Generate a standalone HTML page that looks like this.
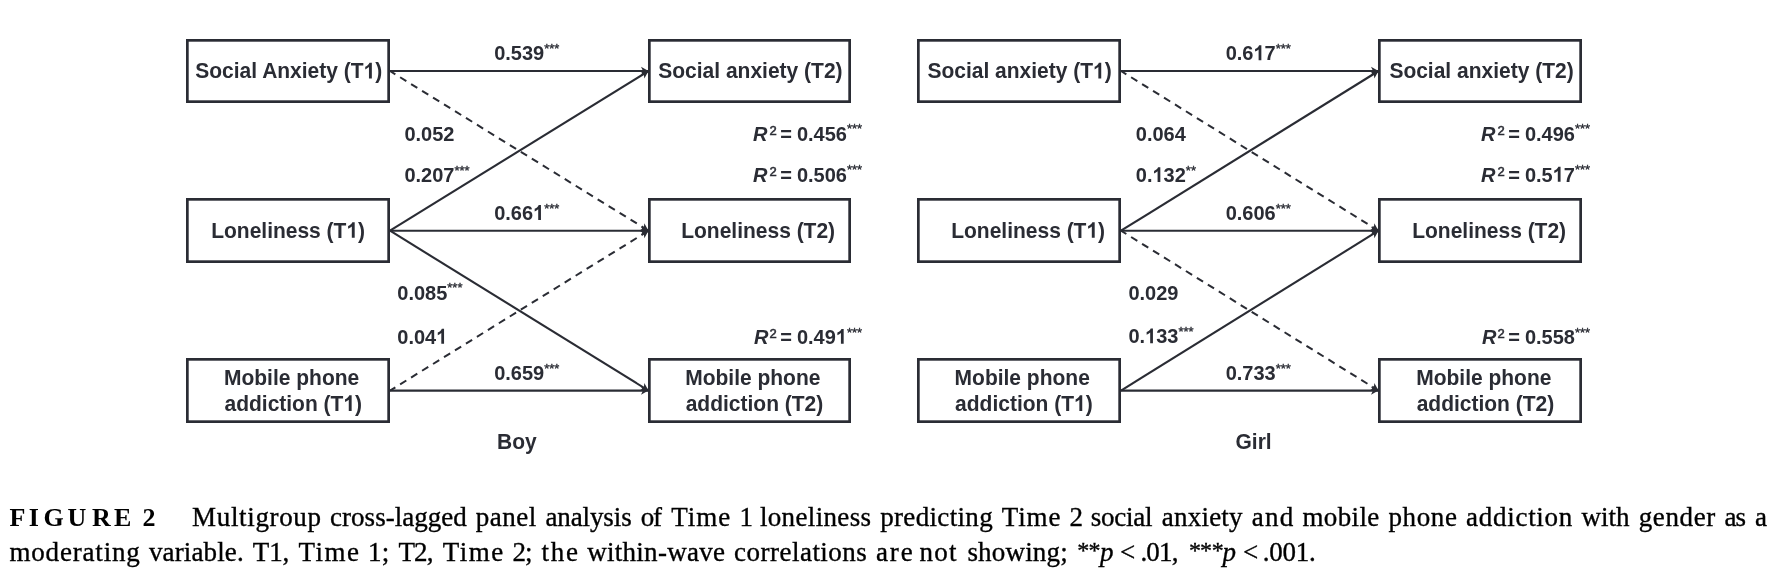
<!DOCTYPE html>
<html><head><meta charset="utf-8"><style>
html,body{margin:0;padding:0;background:#fff;width:1776px;height:576px;overflow:hidden}
svg{position:absolute;left:0;top:0}
svg.dg{will-change:transform}
svg text{font-family:"Liberation Sans",sans-serif;fill:#2a2c34}
svg text tspan.one{fill-opacity:0}
svg .capg text{font-family:"Liberation Serif",serif;fill:#000;font-size:27px;letter-spacing:0.4px;font-weight:normal;stroke:#000;stroke-width:0.35px}
svg .capg text.fg{font-weight:bold;font-size:26px;letter-spacing:0;stroke-width:0}
</style></head><body>
<svg class="dg" width="1776" height="576" viewBox="0 0 1776 576">
<defs><marker id="ah" markerUnits="userSpaceOnUse" markerWidth="12" markerHeight="12" refX="9" refY="6" orient="auto" viewBox="0 0 12 12">
<path d="M9,6 L1.5,1.8 L3.5,6 L1.5,10.2 Z" fill="#2a2c34"/></marker></defs>
<line x1="390" y1="71" x2="648.5" y2="71" stroke="#2a2c34" stroke-width="2.1" marker-end="url(#ah)"/>
<line x1="390" y1="230.7" x2="648.5" y2="230.7" stroke="#2a2c34" stroke-width="2.1" marker-end="url(#ah)"/>
<line x1="390" y1="390.6" x2="648.5" y2="390.6" stroke="#2a2c34" stroke-width="2.1" marker-end="url(#ah)"/>
<line x1="390" y1="230.7" x2="648.5" y2="71" stroke="#2a2c34" stroke-width="2.1" marker-end="url(#ah)"/>
<line x1="390" y1="71" x2="648.5" y2="230.7" stroke="#2a2c34" stroke-width="2.0" stroke-dasharray="7.3 5.6" stroke-dashoffset="1" marker-end="url(#ah)"/>
<line x1="390" y1="230.7" x2="648.5" y2="390.6" stroke="#2a2c34" stroke-width="2.1" marker-end="url(#ah)"/>
<line x1="390" y1="390.6" x2="648.5" y2="230.7" stroke="#2a2c34" stroke-width="2.0" stroke-dasharray="7.3 5.6" stroke-dashoffset="1" marker-end="url(#ah)"/>
<rect x="187.35" y="40.35" width="201.3" height="61.3" fill="#fff" stroke="#2a2c34" stroke-width="2.7"/>
<rect x="649.35" y="40.35" width="200.3" height="61.3" fill="#fff" stroke="#2a2c34" stroke-width="2.7"/>
<rect x="187.35" y="199.35" width="201.3" height="62.3" fill="#fff" stroke="#2a2c34" stroke-width="2.7"/>
<rect x="649.35" y="199.35" width="200.3" height="62.3" fill="#fff" stroke="#2a2c34" stroke-width="2.7"/>
<rect x="187.35" y="359.35" width="201.3" height="62.3" fill="#fff" stroke="#2a2c34" stroke-width="2.7"/>
<rect x="649.35" y="359.35" width="200.3" height="62.3" fill="#fff" stroke="#2a2c34" stroke-width="2.7"/>
<line x1="1121" y1="71" x2="1378.5" y2="71" stroke="#2a2c34" stroke-width="2.1" marker-end="url(#ah)"/>
<line x1="1121" y1="230.7" x2="1378.5" y2="230.7" stroke="#2a2c34" stroke-width="2.1" marker-end="url(#ah)"/>
<line x1="1121" y1="390.6" x2="1378.5" y2="390.6" stroke="#2a2c34" stroke-width="2.1" marker-end="url(#ah)"/>
<line x1="1121" y1="71" x2="1378.5" y2="230.7" stroke="#2a2c34" stroke-width="2.0" stroke-dasharray="7.3 5.6" stroke-dashoffset="1" marker-end="url(#ah)"/>
<line x1="1121" y1="230.7" x2="1378.5" y2="71" stroke="#2a2c34" stroke-width="2.1" marker-end="url(#ah)"/>
<line x1="1121" y1="230.7" x2="1378.5" y2="390.6" stroke="#2a2c34" stroke-width="2.0" stroke-dasharray="7.3 5.6" stroke-dashoffset="1" marker-end="url(#ah)"/>
<line x1="1121" y1="390.6" x2="1378.5" y2="230.7" stroke="#2a2c34" stroke-width="2.1" marker-end="url(#ah)"/>
<rect x="918.35" y="40.35" width="201.3" height="61.3" fill="#fff" stroke="#2a2c34" stroke-width="2.7"/>
<rect x="1379.35" y="40.35" width="201.3" height="61.3" fill="#fff" stroke="#2a2c34" stroke-width="2.7"/>
<rect x="918.35" y="199.35" width="201.3" height="62.3" fill="#fff" stroke="#2a2c34" stroke-width="2.7"/>
<rect x="1379.35" y="199.35" width="201.3" height="62.3" fill="#fff" stroke="#2a2c34" stroke-width="2.7"/>
<rect x="918.35" y="359.35" width="201.3" height="62.3" fill="#fff" stroke="#2a2c34" stroke-width="2.7"/>
<rect x="1379.35" y="359.35" width="201.3" height="62.3" fill="#fff" stroke="#2a2c34" stroke-width="2.7"/>
<text x="195.3" y="78.4" font-size="21" font-weight="bold" transform="matrix(1,0,0,1.04,0,-3.136)">Social Anxiety (T<tspan class="one">1</tspan>)</text>
<text x="211.2" y="237.8" font-size="21" font-weight="bold" transform="matrix(1,0,0,1.04,0,-9.512)">Loneliness (T<tspan class="one">1</tspan>)</text>
<text x="224" y="385" font-size="21" font-weight="bold" transform="matrix(1,0,0,1.04,0,-15.400)">Mobile phone</text>
<text x="224.5" y="411" font-size="21" font-weight="bold" transform="matrix(1,0,0,1.04,0,-16.440)">addiction (T<tspan class="one">1</tspan>)</text>
<text x="658.3" y="78.4" font-size="21" font-weight="bold" transform="matrix(1,0,0,1.04,0,-3.136)">Social anxiety (T2)</text>
<text x="681.2" y="237.8" font-size="21" font-weight="bold" transform="matrix(1,0,0,1.04,0,-9.512)">Loneliness (T2)</text>
<text x="685.2" y="385" font-size="21" font-weight="bold" transform="matrix(1,0,0,1.04,0,-15.400)">Mobile phone</text>
<text x="685.7" y="411" font-size="21" font-weight="bold" transform="matrix(1,0,0,1.04,0,-16.440)">addiction (T2)</text>
<text x="497" y="449.3" font-size="21" font-weight="bold" transform="matrix(1,0,0,1.04,0,-17.972)">Boy</text>
<text x="927.4" y="78.4" font-size="21" font-weight="bold" transform="matrix(1,0,0,1.04,0,-3.136)">Social anxiety (T<tspan class="one">1</tspan>)</text>
<text x="951.2" y="237.8" font-size="21" font-weight="bold" transform="matrix(1,0,0,1.04,0,-9.512)">Loneliness (T<tspan class="one">1</tspan>)</text>
<text x="954.6" y="385" font-size="21" font-weight="bold" transform="matrix(1,0,0,1.04,0,-15.400)">Mobile phone</text>
<text x="955.1" y="411" font-size="21" font-weight="bold" transform="matrix(1,0,0,1.04,0,-16.440)">addiction (T<tspan class="one">1</tspan>)</text>
<text x="1389.4" y="78.4" font-size="21" font-weight="bold" transform="matrix(1,0,0,1.04,0,-3.136)">Social anxiety (T2)</text>
<text x="1412.2" y="237.8" font-size="21" font-weight="bold" transform="matrix(1,0,0,1.04,0,-9.512)">Loneliness (T2)</text>
<text x="1416.2" y="385" font-size="21" font-weight="bold" transform="matrix(1,0,0,1.04,0,-15.400)">Mobile phone</text>
<text x="1416.7" y="411" font-size="21" font-weight="bold" transform="matrix(1,0,0,1.04,0,-16.440)">addiction (T2)</text>
<text x="1235.5" y="449.3" font-size="21" font-weight="bold" transform="matrix(1,0,0,1.04,0,-17.972)">Girl</text>
<text x="494.2" y="60.2" font-size="20" font-weight="bold" transform="matrix(1,0,0,1.04,0,-2.408)">0.539<tspan font-size="13" font-weight="normal" dy="-7" stroke="#2a2c34" stroke-width="0.35">***</tspan></text>
<text x="404.4" y="141.1" font-size="20" font-weight="bold" transform="matrix(1,0,0,1.04,0,-5.644)">0.052</text>
<text x="404.4" y="182.1" font-size="20" font-weight="bold" transform="matrix(1,0,0,1.04,0,-7.284)">0.207<tspan font-size="13" font-weight="normal" dy="-7" stroke="#2a2c34" stroke-width="0.35">***</tspan></text>
<text x="494.2" y="220" font-size="20" font-weight="bold" transform="matrix(1,0,0,1.04,0,-8.800)">0.66<tspan class="one">1</tspan><tspan font-size="13" font-weight="normal" dy="-7" stroke="#2a2c34" stroke-width="0.35">***</tspan></text>
<text x="397.3" y="299.7" font-size="20" font-weight="bold" transform="matrix(1,0,0,1.04,0,-11.988)">0.085<tspan font-size="13" font-weight="normal" dy="-7" stroke="#2a2c34" stroke-width="0.35">***</tspan></text>
<text x="397.3" y="343.75" font-size="20" font-weight="bold" transform="matrix(1,0,0,1.04,0,-13.750)">0.04<tspan class="one">1</tspan></text>
<text x="494.2" y="379.8" font-size="20" font-weight="bold" transform="matrix(1,0,0,1.04,0,-15.192)">0.659<tspan font-size="13" font-weight="normal" dy="-7" stroke="#2a2c34" stroke-width="0.35">***</tspan></text>
<text x="753" y="140.7" font-size="20" font-weight="bold" transform="matrix(1,0,0,1.04,0,-5.628)"><tspan font-style="italic" dx="0">R</tspan><tspan font-size="13" font-weight="normal" dy="-5.8" dx="2" stroke="#2a2c34" stroke-width="0.55">2</tspan><tspan dy="5.8" dx="3.5">=</tspan><tspan dx="-0.5"> 0.456</tspan><tspan font-size="13" font-weight="normal" dy="-7" stroke="#2a2c34" stroke-width="0.35">***</tspan></text>
<text x="753" y="181.7" font-size="20" font-weight="bold" transform="matrix(1,0,0,1.04,0,-7.268)"><tspan font-style="italic" dx="0">R</tspan><tspan font-size="13" font-weight="normal" dy="-5.8" dx="2" stroke="#2a2c34" stroke-width="0.55">2</tspan><tspan dy="5.8" dx="3.5">=</tspan><tspan dx="-0.5"> 0.506</tspan><tspan font-size="13" font-weight="normal" dy="-7" stroke="#2a2c34" stroke-width="0.35">***</tspan></text>
<text x="753" y="343.8" font-size="20" font-weight="bold" transform="matrix(1,0,0,1.04,0,-13.752)"><tspan font-style="italic" dx="1">R</tspan><tspan font-size="13" font-weight="normal" dy="-5.8" dx="1" stroke="#2a2c34" stroke-width="0.55">2</tspan><tspan dy="5.8" dx="3.5">=</tspan><tspan dx="-0.5"> 0.49<tspan class="one">1</tspan></tspan><tspan font-size="13" font-weight="normal" dy="-7" stroke="#2a2c34" stroke-width="0.35">***</tspan></text>
<text x="1225.7" y="60.2" font-size="20" font-weight="bold" transform="matrix(1,0,0,1.04,0,-2.408)">0.6<tspan class="one">1</tspan>7<tspan font-size="13" font-weight="normal" dy="-7" stroke="#2a2c34" stroke-width="0.35">***</tspan></text>
<text x="1135.8" y="141.1" font-size="20" font-weight="bold" transform="matrix(1,0,0,1.04,0,-5.644)">0.064</text>
<text x="1135.8" y="182.1" font-size="20" font-weight="bold" transform="matrix(1,0,0,1.04,0,-7.284)">0.<tspan class="one">1</tspan>32<tspan font-size="13" font-weight="normal" dy="-7" stroke="#2a2c34" stroke-width="0.35">**</tspan></text>
<text x="1225.7" y="220" font-size="20" font-weight="bold" transform="matrix(1,0,0,1.04,0,-8.800)">0.606<tspan font-size="13" font-weight="normal" dy="-7" stroke="#2a2c34" stroke-width="0.35">***</tspan></text>
<text x="1128.4" y="299.7" font-size="20" font-weight="bold" transform="matrix(1,0,0,1.04,0,-11.988)">0.029</text>
<text x="1128.4" y="343.3" font-size="20" font-weight="bold" transform="matrix(1,0,0,1.04,0,-13.732)">0.<tspan class="one">1</tspan>33<tspan font-size="13" font-weight="normal" dy="-7" stroke="#2a2c34" stroke-width="0.35">***</tspan></text>
<text x="1225.7" y="379.8" font-size="20" font-weight="bold" transform="matrix(1,0,0,1.04,0,-15.192)">0.733<tspan font-size="13" font-weight="normal" dy="-7" stroke="#2a2c34" stroke-width="0.35">***</tspan></text>
<text x="1481" y="140.7" font-size="20" font-weight="bold" transform="matrix(1,0,0,1.04,0,-5.628)"><tspan font-style="italic" dx="0">R</tspan><tspan font-size="13" font-weight="normal" dy="-5.8" dx="2" stroke="#2a2c34" stroke-width="0.55">2</tspan><tspan dy="5.8" dx="3.5">=</tspan><tspan dx="-0.5"> 0.496</tspan><tspan font-size="13" font-weight="normal" dy="-7" stroke="#2a2c34" stroke-width="0.35">***</tspan></text>
<text x="1481" y="181.7" font-size="20" font-weight="bold" transform="matrix(1,0,0,1.04,0,-7.268)"><tspan font-style="italic" dx="0">R</tspan><tspan font-size="13" font-weight="normal" dy="-5.8" dx="2" stroke="#2a2c34" stroke-width="0.55">2</tspan><tspan dy="5.8" dx="3.5">=</tspan><tspan dx="-0.5"> 0.5<tspan class="one">1</tspan>7</tspan><tspan font-size="13" font-weight="normal" dy="-7" stroke="#2a2c34" stroke-width="0.35">***</tspan></text>
<text x="1481" y="343.8" font-size="20" font-weight="bold" transform="matrix(1,0,0,1.04,0,-13.752)"><tspan font-style="italic" dx="1">R</tspan><tspan font-size="13" font-weight="normal" dy="-5.8" dx="1" stroke="#2a2c34" stroke-width="0.55">2</tspan><tspan dy="5.8" dx="3.5">=</tspan><tspan dx="-0.5"> 0.558</tspan><tspan font-size="13" font-weight="normal" dy="-7" stroke="#2a2c34" stroke-width="0.35">***</tspan></text>
<g fill="#2a2c34">
<g transform="matrix(1,0,0,1.04,0,-3.136)"><path d="M804 0H523V1059Q369 915 160 846V1101Q270 1137 399 1238Q528 1338 576 1466H804V0Z" transform="translate(363.60,78.40) scale(0.010254,-0.010254)"/></g>
<g transform="matrix(1,0,0,1.04,0,-9.512)"><path d="M804 0H523V1059Q369 915 160 846V1101Q270 1137 399 1238Q528 1338 576 1466H804V0Z" transform="translate(346.45,237.80) scale(0.010254,-0.010254)"/></g>
<g transform="matrix(1,0,0,1.04,0,-16.440)"><path d="M804 0H523V1059Q369 915 160 846V1101Q270 1137 399 1238Q528 1338 576 1466H804V0Z" transform="translate(343.40,411.00) scale(0.010254,-0.010254)"/></g>
<g transform="matrix(1,0,0,1.04,0,-3.136)"><path d="M804 0H523V1059Q369 915 160 846V1101Q270 1137 399 1238Q528 1338 576 1466H804V0Z" transform="translate(1092.99,78.40) scale(0.010254,-0.010254)"/></g>
<g transform="matrix(1,0,0,1.04,0,-9.512)"><path d="M804 0H523V1059Q369 915 160 846V1101Q270 1137 399 1238Q528 1338 576 1466H804V0Z" transform="translate(1086.45,237.80) scale(0.010254,-0.010254)"/></g>
<g transform="matrix(1,0,0,1.04,0,-16.440)"><path d="M804 0H523V1059Q369 915 160 846V1101Q270 1137 399 1238Q528 1338 576 1466H804V0Z" transform="translate(1074.00,411.00) scale(0.010254,-0.010254)"/></g>
<g transform="matrix(1,0,0,1.04,0,-8.800)"><path d="M804 0H523V1059Q369 915 160 846V1101Q270 1137 399 1238Q528 1338 576 1466H804V0Z" transform="translate(533.10,220.00) scale(0.009766,-0.009766)"/></g>
<g transform="matrix(1,0,0,1.04,0,-13.750)"><path d="M804 0H523V1059Q369 915 160 846V1101Q270 1137 399 1238Q528 1338 576 1466H804V0Z" transform="translate(436.20,343.75) scale(0.009766,-0.009766)"/></g>
<g transform="matrix(1,0,0,1.04,0,-13.752)"><path d="M804 0H523V1059Q369 915 160 846V1101Q270 1137 399 1238Q528 1338 576 1466H804V0Z" transform="translate(835.82,343.80) scale(0.009766,-0.009766)"/></g>
<g transform="matrix(1,0,0,1.04,0,-2.408)"><path d="M804 0H523V1059Q369 915 160 846V1101Q270 1137 399 1238Q528 1338 576 1466H804V0Z" transform="translate(1253.50,60.20) scale(0.009766,-0.009766)"/></g>
<g transform="matrix(1,0,0,1.04,0,-7.284)"><path d="M804 0H523V1059Q369 915 160 846V1101Q270 1137 399 1238Q528 1338 576 1466H804V0Z" transform="translate(1152.48,182.10) scale(0.009766,-0.009766)"/></g>
<g transform="matrix(1,0,0,1.04,0,-13.732)"><path d="M804 0H523V1059Q369 915 160 846V1101Q270 1137 399 1238Q528 1338 576 1466H804V0Z" transform="translate(1145.08,343.30) scale(0.009766,-0.009766)"/></g>
<g transform="matrix(1,0,0,1.04,0,-7.268)"><path d="M804 0H523V1059Q369 915 160 846V1101Q270 1137 399 1238Q528 1338 576 1466H804V0Z" transform="translate(1552.70,181.70) scale(0.009766,-0.009766)"/></g>
</g>

</svg>
<svg width="1776" height="576" viewBox="0 0 1776 576">
<g class="capg">
<text x="192.1" y="525.9" textLength="129.3" lengthAdjust="spacing">Multigroup</text>
<text x="330.1" y="525.9" textLength="137.0" lengthAdjust="spacing">cross-lagged</text>
<text x="475.8" y="525.9" textLength="60.9" lengthAdjust="spacing">panel</text>
<text x="545.4" y="525.9" textLength="86.7" lengthAdjust="spacing">analysis</text>
<text x="640.8" y="525.9" textLength="21.7" lengthAdjust="spacing">of</text>
<text x="671.2" y="525.9" textLength="59.5" lengthAdjust="spacing">Time</text>
<text x="739.4" y="525.9" textLength="11.8" lengthAdjust="spacing">1</text>
<text x="759.9" y="525.9" textLength="111.6" lengthAdjust="spacing">loneliness</text>
<text x="880.2" y="525.9" textLength="112.9" lengthAdjust="spacing">predicting</text>
<text x="1001.8" y="525.9" textLength="59.1" lengthAdjust="spacing">Time</text>
<text x="1069.6" y="525.9" textLength="12.5" lengthAdjust="spacing">2</text>
<text x="1090.8" y="525.9" textLength="62.2" lengthAdjust="spacing">social</text>
<text x="1161.7" y="525.9" textLength="81.3" lengthAdjust="spacing">anxiety</text>
<text x="1251.7" y="525.9" textLength="42.0" lengthAdjust="spacing">and</text>
<text x="1302.4" y="525.9" textLength="77.3" lengthAdjust="spacing">mobile</text>
<text x="1388.4" y="525.9" textLength="69.0" lengthAdjust="spacing">phone</text>
<text x="1466.1" y="525.9" textLength="106.6" lengthAdjust="spacing">addiction</text>
<text x="1581.4" y="525.9" textLength="48.6" lengthAdjust="spacing">with</text>
<text x="1638.7" y="525.9" textLength="77.0" lengthAdjust="spacing">gender</text>
<text x="1724.4" y="525.9" textLength="22.0" lengthAdjust="spacing">as</text>
<text x="1755.1" y="525.9" textLength="11.4" lengthAdjust="spacing">a</text>
<text x="9.4" y="560.6" textLength="130.8" lengthAdjust="spacing">moderating</text>
<text x="148.9" y="560.6" textLength="95.2" lengthAdjust="spacing">variable.</text>
<text x="252.8" y="560.6" textLength="36.9" lengthAdjust="spacing">T1,</text>
<text x="298.4" y="560.6" textLength="60.9" lengthAdjust="spacing">Time</text>
<text x="368.0" y="560.6" textLength="21.7" lengthAdjust="spacing">1;</text>
<text x="398.4" y="560.6" textLength="35.6" lengthAdjust="spacing">T2,</text>
<text x="442.7" y="560.6" textLength="61.0" lengthAdjust="spacing">Time</text>
<text x="512.4" y="560.6" textLength="20.4" lengthAdjust="spacing">2;</text>
<text x="541.5" y="560.6" textLength="37.0" lengthAdjust="spacing">the</text>
<text x="587.2" y="560.6" textLength="138.2" lengthAdjust="spacing">within-wave</text>
<text x="734.1" y="560.6" textLength="133.1" lengthAdjust="spacing">correlations</text>
<text x="875.9" y="560.6" textLength="37.3" lengthAdjust="spacing">are</text>
<text x="919.4" y="560.6" textLength="37.5" lengthAdjust="spacing">not</text>
<text x="967.4" y="560.6" textLength="100.7" lengthAdjust="spacing">showing;</text>
<text x="1077.2 1088.6" y="558.2" style="font-size:24px">**</text>
<text x="1100.1" y="560.6" textLength="15.7" lengthAdjust="spacing"><tspan font-style="italic">p</tspan></text>
<text x="1119.9" y="560.6" textLength="13.3" lengthAdjust="spacing">&lt;</text>
<text x="1140.4" y="560.6" textLength="38.5" lengthAdjust="spacing">.01,</text>
<text x="1188.9 1199.9 1211.7" y="558.2" style="font-size:24px">***</text>
<text x="1222.6" y="560.6" textLength="15.8" lengthAdjust="spacing"><tspan font-style="italic">p</tspan></text>
<text x="1242.9" y="560.6" textLength="13.3" lengthAdjust="spacing">&lt;</text>
<text x="1262.8" y="560.6" textLength="53.4" lengthAdjust="spacing">.001.</text>
<text class="fg" x="9.6" y="525.9">F</text>
<text class="fg" x="28.7" y="525.9">I</text>
<text class="fg" x="43.5" y="525.9">G</text>
<text class="fg" x="67.5" y="525.9">U</text>
<text class="fg" x="91.9" y="525.9">R</text>
<text class="fg" x="113.9" y="525.9">E</text>
<text class="fg" x="142.6" y="525.9">2</text>
</g>
</svg>
</body></html>
